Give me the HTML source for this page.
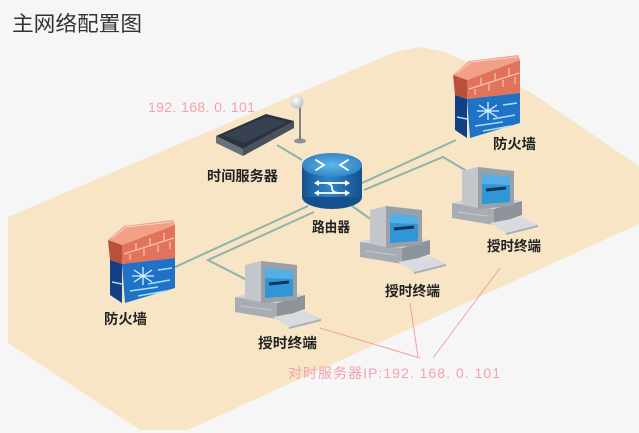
<!DOCTYPE html>
<html>
<head>
<meta charset="utf-8">
<style>
  html,body{margin:0;padding:0;background:#f6f6f6;}
  svg{display:block;}
  .lbl{font-family:"Liberation Sans","Noto Sans CJK SC",sans-serif;font-weight:bold;font-size:14px;fill:#222;}
  .ip{font-family:"Liberation Sans","Noto Sans CJK SC",sans-serif;font-size:14px;fill:#f3a3ab;}
</style>
</head>
<body>
<svg width="639" height="433" viewBox="0 0 639 433" xmlns="http://www.w3.org/2000/svg">
  <defs>
    <linearGradient id="rb" x1="0" y1="0" x2="1" y2="0">
      <stop offset="0" stop-color="#15518e"/>
      <stop offset="0.45" stop-color="#2f86c9"/>
      <stop offset="1" stop-color="#16508c"/>
    </linearGradient>
    <radialGradient id="rt" cx="0.5" cy="0.5" r="0.6">
      <stop offset="0" stop-color="#5fb4e8"/>
      <stop offset="1" stop-color="#2a7fc2"/>
    </radialGradient>
    <radialGradient id="ball" cx="0.4" cy="0.35" r="0.7">
      <stop offset="0" stop-color="#ffffff"/>
      <stop offset="1" stop-color="#b9bcc2"/>
    </radialGradient>
    <g id="pc">
      <!-- base -->
      <polygon points="2,38 30,30 72,36 44,44" fill="#d3d6da"/>
      <polygon points="2,38 44,44 44,60 2,53" fill="#a8adb4"/>
      <polygon points="44,44 72,36 72,50 44,60" fill="#8d939a"/>
      <line x1="8" y1="47" x2="38" y2="51" stroke="#c8ccd0" stroke-width="1"/>
      <!-- monitor -->
      <polygon points="12,6 28,2 64,6 50,10" fill="#dfe2e5"/>
      <polygon points="12,6 28,2 28,43 12,40" fill="#c3c7cc"/>
      <polygon points="28,2 64,6 64,41 28,44" fill="#9aa0a7"/>
      <polygon points="32,9 60,12 60,37 32,39" fill="#2f97d6"/>
      <polygon points="32,9 60,12 60,20 32,19" fill="#6cc0ee" opacity="0.6"/>
      <path d="M36 25 L56 23" stroke="#123456" stroke-width="3"/>
      <!-- keyboard -->
      <polygon points="40,58 72,52 88,60 56,68" fill="#d8dbdf"/>
      <polygon points="56,68 88,60 88,62 56,70" fill="#a9aeb4"/>
    </g>
    <g id="fw">
      <!-- top -->
      <polygon points="0,0 16,-14 65,-20 67,-15 14,5" fill="#f2a088"/>
      <polyline points="4,-2 18,-13 64,-18" fill="none" stroke="#fbd0c2" stroke-width="1"/>
      <!-- left side -->
      <polygon points="0,0 14,5 14,24 2,20" fill="#b9503c"/>
      <polygon points="2,20 14,24 14,63 2,55" fill="#133f86"/>
      <!-- front red -->
      <polygon points="14,5 67,-15 67,18 14,24" fill="#e0735a"/>
      <!-- front blue -->
      <polygon points="14,24 67,18 67,48 17,63" fill="#1f72c6"/>
      <!-- bricks -->
      <g stroke="#f7c6b6" stroke-width="1.2" fill="none">
        <path d="M16 14 L66 -2"/>
        <path d="M28 3 L28 10 M42 -2 L42 6 M56 -7 L56 1 M22 20 L22 14 M36 16 L36 9 M50 12 L50 5 M62 9 L62 2"/>
      </g>
      <!-- starburst -->
      <g stroke="#d8f4ff" stroke-width="1.3">
        <path d="M26 30 L44 42 M44 30 L26 42 M35 27 L35 45 M24 36 L46 36"/>
      </g>
      <g stroke="#9fe2f7" stroke-width="1.6">
        <path d="M40 44 L62 40 M22 51 L50 47 M30 56 L58 51 M50 30 L64 28 M4 42 L14 44"/>
      </g>
    </g>
  </defs>

  <!-- background -->
  <rect width="639" height="433" fill="#f6f6f6"/>
  <!-- beige floor -->
  <polygon points="8,217 395,52 420,47 445,52 530,92 639,166 639,224 188,430 140,430 8,343" fill="#f7e5c5"/>

  <!-- title -->
  <text x="12" y="31" font-family="'Liberation Sans','Noto Sans CJK SC',sans-serif" font-size="21" fill="#333" textLength="130" lengthAdjust="spacingAndGlyphs">主网络配置图</text>

  <!-- connection lines -->
  <g stroke="#8db3aa" stroke-width="2" fill="none">
    <path d="M277 145 L302 160"/>
    <path d="M308 206 L173 268"/>
    <path d="M314 212 L208 260 L247 280"/>
    <path d="M352 206 L372 220"/>
    <path d="M362 183 L456 140"/>
    <path d="M364 190 L443 157 L470 173"/>
  </g>

  <!-- pink pointer lines -->
  <g stroke="#f0a3a3" stroke-width="1" fill="none">
    <path d="M320 328 L420 358"/>
    <path d="M410 303 L418 357"/>
    <path d="M500 268 L433 358"/>
  </g>

  <!-- time server -->
  <polygon points="216,136 243,149 243,156 216,143" fill="#6a717c"/>
  <polygon points="243,149 294,121 294,128 243,156" fill="#4a515c"/>
  <polygon points="216,136 266,114 294,121 243,149" fill="#2b3340"/>
  <polygon points="223,135 266,117 287,122 244,143" fill="#38414f"/>
  <!-- antenna -->
  <ellipse cx="300" cy="141" rx="6" ry="2.5" fill="#8e9399"/>
  <line x1="300" y1="106" x2="300" y2="141" stroke="#7c8288" stroke-width="2"/>
  <circle cx="297" cy="102" r="6.5" fill="url(#ball)"/>

  <!-- router -->
  <ellipse cx="332" cy="197" rx="30" ry="12" fill="#15508c"/>
  <rect x="302" y="165" width="60" height="32" fill="url(#rb)"/>
  <ellipse cx="332" cy="165" rx="30" ry="12" fill="url(#rt)"/>
  <g stroke="#ffffff" stroke-width="1.8" fill="none" stroke-linecap="round">
    <path d="M316 160 L324 165 L316 170"/>
    <path d="M348 160 L340 165 L348 170"/>
    <path d="M316 183 L348 183 M316 193 L348 193"/>
    <path d="M324 183 Q332 183 332 188 Q332 193 340 193"/>
  </g>
  <g fill="#ffffff">
    <polygon points="350,183 345,180 345,186"/>
    <polygon points="314,183 319,180 319,186"/>
    <polygon points="350,193 345,190 345,196"/>
    <polygon points="314,193 319,190 319,196"/>
  </g>

  <!-- firewalls -->
  <use href="#fw" transform="translate(453,75)"/>
  <use href="#fw" transform="translate(108,240)"/>

  <!-- computers -->
  <use href="#pc" transform="translate(450,165)"/>
  <use href="#pc" transform="translate(358,204)"/>
  <use href="#pc" transform="translate(233,259)"/>

  <!-- labels -->
  <text class="lbl" x="207" y="181" textLength="71" lengthAdjust="spacingAndGlyphs">时间服务器</text>
  <text class="lbl" x="312" y="232" font-size="13" textLength="38" lengthAdjust="spacingAndGlyphs">路由器</text>
  <text class="lbl" x="493" y="149" textLength="43" lengthAdjust="spacingAndGlyphs">防火墙</text>
  <text class="lbl" x="104" y="324" textLength="43" lengthAdjust="spacingAndGlyphs">防火墙</text>
  <text class="lbl" x="487" y="251" textLength="54" lengthAdjust="spacingAndGlyphs">授时终端</text>
  <text class="lbl" x="385" y="296" textLength="55" lengthAdjust="spacingAndGlyphs">授时终端</text>
  <text class="lbl" x="258" y="348" textLength="59" lengthAdjust="spacingAndGlyphs">授时终端</text>

  <!-- IP texts -->
  <text class="ip" x="148" y="112" textLength="107" lengthAdjust="spacing">192. 168. 0. 101</text>
  <text class="ip" x="288" y="378" textLength="212" lengthAdjust="spacing">对时服务器IP:192. 168. 0. 101</text>
</svg>
</body>
</html>
